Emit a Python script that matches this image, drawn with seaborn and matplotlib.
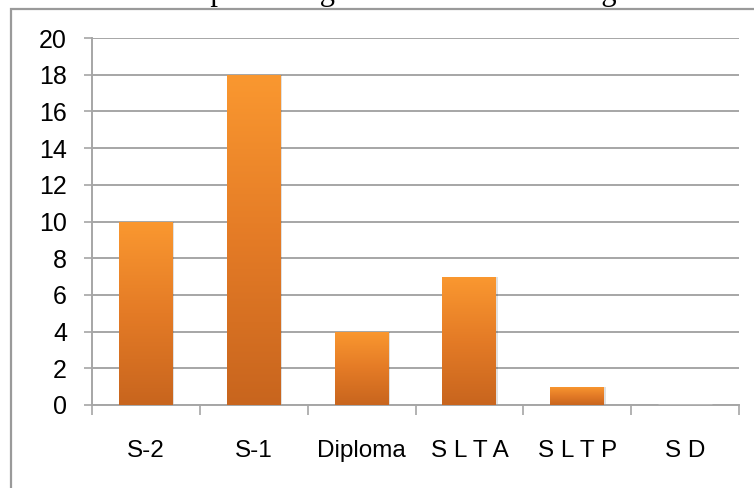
import numpy as np
import pandas as pd
import matplotlib
matplotlib.use("Agg")
import matplotlib.pyplot as plt
import seaborn as sns
from matplotlib.colors import LinearSegmentedColormap
from matplotlib.patches import Rectangle

categories = ["S-2", "S-1", "Diploma", "S L T A", "S L T P", "S D"]
counts = [10, 18, 4, 7, 1, 0]
y_ticks = [0, 2, 4, 6, 8, 10, 12, 14, 16, 18, 20]

sns.set_theme(style="white")
plt.rcParams["font.family"] = ["Liberation Sans Narrow", "Liberation Sans", "DejaVu Sans"]

df = pd.DataFrame({"tingkat": categories, "jumlah": counts})

fig = plt.figure(figsize=(7.54, 4.88), dpi=100)
ax = fig.add_axes([92 / 754, 83 / 488, (739 - 92) / 754, (405 - 38) / 488])

sns.barplot(data=df, x="tingkat", y="jumlah", color="#F0862A", width=0.5,
            saturation=1, ax=ax, zorder=3)

# orange vertical gradient inside each bar, light at top, darker at base
cmap = LinearSegmentedColormap.from_list("oranye", ["#C8651E", "#E47B26", "#FA9830"])
grad = np.linspace(0, 1, 256).reshape(-1, 1)
for p in ax.patches:
    x0, y0 = p.get_x(), p.get_y()
    w, h = p.get_width(), p.get_height()
    if h <= 0:
        continue
    # soft drop shadow
    ax.add_patch(Rectangle((x0 + 0.012, y0), w, h, facecolor="#000000", alpha=0.12,
                           edgecolor="none", zorder=2.5))
    p.set_edgecolor("none")
    im = ax.imshow(grad, cmap=cmap, origin="lower", aspect="auto",
                   extent=[x0, x0 + w, y0, y0 + h], zorder=3.5)
    im.set_clip_path(p)

ax.set_xlim(-0.5, len(categories) - 0.5)
ax.set_ylim(0, 20)
ax.set_yticks(y_ticks)
ax.set_yticklabels([str(v) for v in y_ticks])
ax.set_xlabel("")
ax.set_ylabel("")

ax.yaxis.grid(True, color="#A6A6A6", linewidth=1.4, zorder=0)
ax.set_axisbelow(True)
for s in ["top", "right"]:
    ax.spines[s].set_visible(False)
for s in ["left", "bottom"]:
    ax.spines[s].set_color("#A6A6A6")
    ax.spines[s].set_linewidth(1.4)

ax.tick_params(axis="y", which="major", direction="out", length=6, width=1.2,
               color="#A6A6A6", left=True, labelsize=18, pad=12, labelcolor="black")
ax.tick_params(axis="x", which="major", length=0, labelsize=17.5, pad=25,
               labelcolor="black")
ax.set_xticks(np.arange(-0.5, len(categories), 1.0), minor=True)
ax.tick_params(axis="x", which="minor", direction="out", length=7, width=1.2,
               color="#A6A6A6", bottom=True)

# frame around the chart area
fig.patches.append(Rectangle((11 / 754, -0.05), 1.2, (488 - 9) / 488 + 0.05,
                             transform=fig.transFigure, fill=False,
                             edgecolor="#9A9A9A", linewidth=1.6, zorder=0))

# caption line above the frame, running off the top edge
fig.text(0.017, 1.0, "Gambar 3. Komposisi Pegawai Berdasarkan Tingkat Pendidikan",
         family=["Liberation Serif", "DejaVu Serif"], fontsize=22, va="baseline",
         ha="left", color="black")

fig.savefig("out.png", dpi=100)
